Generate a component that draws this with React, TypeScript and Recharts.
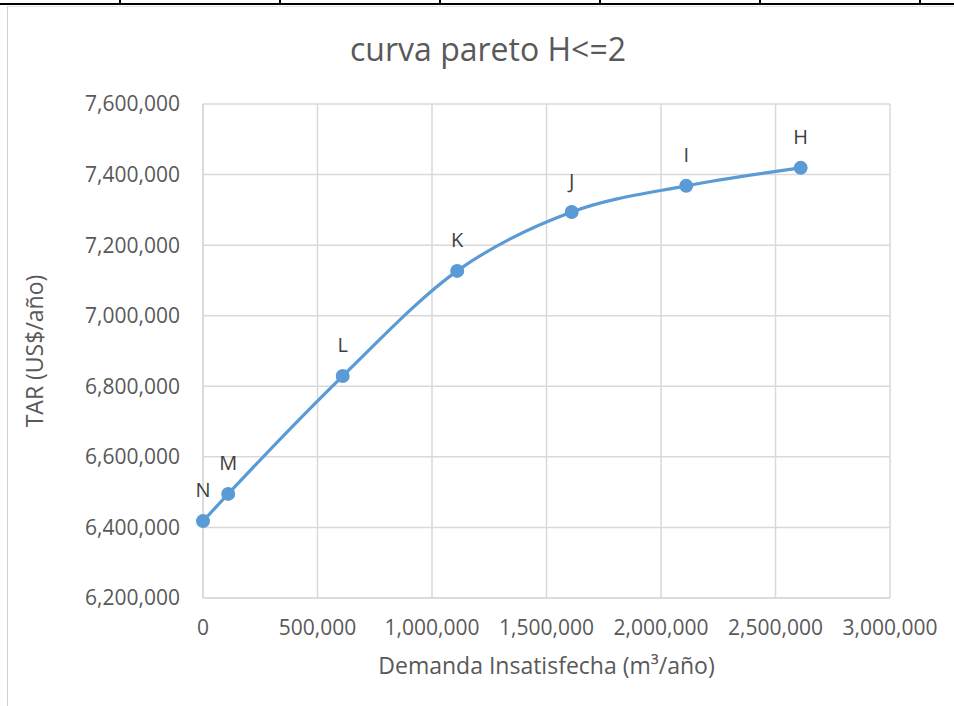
import React from 'react';
import { LineChart, Line, XAxis, YAxis, CartesianGrid, LabelList, Label } from 'recharts';

const pointNames = ['N', 'M', 'L', 'K', 'J', 'I', 'H'];
const demanda = [0, 110000, 610000, 1110000, 1610000, 2110000, 2610000];
const tar = [6418000, 6495000, 6829000, 7127000, 7294000, 7368000, 7419000];
const xTicks = [0, 500000, 1000000, 1500000, 2000000, 2500000, 3000000];
const yTicks = [6200000, 6400000, 6600000, 6800000, 7000000, 7200000, 7400000, 7600000];

const data = pointNames.map((name, i) => ({ name, x: demanda[i], y: tar[i] }));

const fmt = (v: number) => v.toLocaleString('en-US');
const tableTicks = [119, 279, 439, 599, 759, 919];

const App: React.FC = () => {
  return (
    <div style={{ position: 'absolute', left: 0, top: 0, width: 954, height: 706, background: '#fff', fontFamily: '"Open Sans", sans-serif' }}>
      {/* table border above the chart */}
      <div style={{ position: 'absolute', left: 0, top: 3, width: 954, height: 2, background: '#000' }} />
      {tableTicks.map((x) => (
        <div key={x} style={{ position: 'absolute', left: x, top: 0, width: 2, height: 4, background: '#000' }} />
      ))}
      <div style={{ position: 'absolute', left: 7, top: 6, width: 947, height: 1, background: '#e3e3e3' }} />
      <div style={{ position: 'absolute', left: 7, top: 6, width: 1, height: 700, background: '#d0d0d0' }} />

      <div style={{ position: 'absolute', left: 0, top: 0 }}>
        <LineChart width={954} height={706} data={data} margin={{ top: 104, right: 64, left: 0, bottom: 0 }}>
          <text x={488} y={61} textAnchor="middle" fontSize={32} fill="#595959" fontFamily='"Open Sans", sans-serif'>
            curva pareto H&lt;=2
          </text>
          <CartesianGrid stroke="#d9d9d9" strokeWidth={1.5} />
          <XAxis
            dataKey="x"
            type="number"
            domain={[0, 3000000]}
            ticks={xTicks}
            tickFormatter={fmt}
            height={108}
            tickLine={false}
            axisLine={{ stroke: '#d9d9d9', strokeWidth: 1.5 }}
            tickMargin={16}
            tick={{ fill: '#595959', fontSize: 21 }}
            interval={0}
          >
            <Label value="Demanda Insatisfecha (m³/año)" position="insideBottom" offset={32} fill="#595959" fontSize={23} />
          </XAxis>
          <YAxis
            dataKey="y"
            type="number"
            domain={[6200000, 7600000]}
            ticks={yTicks}
            tickFormatter={fmt}
            width={203}
            tickLine={false}
            axisLine={{ stroke: '#d9d9d9', strokeWidth: 1.5 }}
            tickMargin={17}
            tick={{ fill: '#595959', fontSize: 21 }}
            interval={0}
          >
            <Label value="TAR (US$/año)" angle={-90} position="insideLeft" offset={35} fill="#595959" fontSize={23} style={{ textAnchor: 'middle' }} />
          </YAxis>
          <Line
            type="monotone"
            dataKey="y"
            stroke="#5b9bd5"
            strokeWidth={3.2}
            dot={{ r: 7, fill: '#5b9bd5', stroke: '#5b9bd5', strokeWidth: 0 }}
            activeDot={false}
            isAnimationActive={false}
          >
            <LabelList dataKey="name" position="top" offset={24} fill="#404040" fontSize={20} />
          </Line>
        </LineChart>
      </div>
    </div>
  );
};

export default App;
